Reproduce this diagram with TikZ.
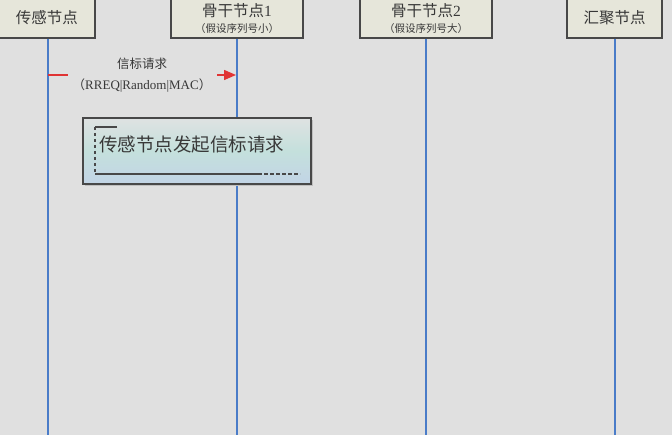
\documentclass[tikz,border=0pt]{standalone}
\usepackage{fontspec}
\setmainfont{Liberation Serif}
\newfontfamily\cjk{Noto Sans CJK SC}
\usetikzlibrary{arrows.meta}
\definecolor{bgcol}{HTML}{E0E0E0}
\definecolor{boxcol}{HTML}{E6E6DA}
\definecolor{linecol}{HTML}{4A7CC8}
\definecolor{msgcol}{HTML}{E03434}
\definecolor{edgecol}{HTML}{484848}
\definecolor{txtcol}{HTML}{383838}
\definecolor{notetop}{HTML}{DFE2E2}
\definecolor{notemid}{HTML}{C4E0DC}
\definecolor{notebot}{HTML}{C2D4E6}
\begin{document}
\begin{tikzpicture}[x=1pt,y=-1pt,
  actor/.style={draw=edgecol,fill=boxcol,line width=1.4pt,minimum height=40pt,inner sep=0pt,align=center,text=txtcol},
  life/.style={draw=linecol,line width=2.6pt},
  msg/.style={draw=msgcol,line width=1.4pt}]
\fill[bgcol] (0,0) rectangle (672,435);
\useasboundingbox (0,0) rectangle (672,435);

% lane heads
\node[actor,minimum width=96pt] (sens) at (47,18) {\cjk\fontsize{15.5}{17}\selectfont 传感节点};
\node[actor,minimum width=132pt] (bb1) at (237,18) {{\cjk\fontsize{15.5}{17}\selectfont 骨干节点}{\fontsize{15.5}{17}\selectfont 1}\\[4pt]{\cjk\fontsize{10.5}{11}\selectfont （假设序列号小）}};
\node[actor,minimum width=132pt] (bb2) at (426,18) {{\cjk\fontsize{15.5}{17}\selectfont 骨干节点}{\fontsize{15.5}{17}\selectfont 2}\\[4pt]{\cjk\fontsize{10.5}{11}\selectfont （假设序列号大）}};
\node[actor,minimum width=95pt] (sink) at (614.5,18) {\cjk\fontsize{15.5}{17}\selectfont 汇聚节点};

% lifelines
\coordinate (sensend) at (48,435);
\coordinate (bb1end) at (237,435);
\coordinate (bb2end) at (426,435);
\coordinate (sinkend) at (615,435);
\draw[life] (sens.south -| sensend) -- (sensend);
\draw[life] (bb1.south) -- (bb1end);
\draw[life] (bb2.south) -- (bb2end);
\draw[life] (sink.south -| sinkend) -- (sinkend);

% beacon request
\coordinate (m1) at (48,75);
\coordinate (m2) at (68,75);
\coordinate (m3) at (217,75);
\coordinate (m4) at (236,75);
\draw[msg] (m1) -- (m2);
\draw[msg,-{Triangle[length=12pt,width=10pt]}] (m3) -- (m4);
\node[text=txtcol] (lab1) at (142,64) {\cjk\fontsize{12.5}{14}\selectfont 信标请求};
\node[text=txtcol] (lab2) at (142,86) {{\cjk\fontsize{12.5}{14}\selectfont （}{\fontsize{13}{14}\selectfont RREQ|Random|MAC}{\cjk\fontsize{12.5}{14}\selectfont ）}};

% note
\fill[edgecol!35] (85,120) rectangle (313,186);
\shade[top color=notetop,bottom color=notebot,middle color=notemid,draw=edgecol,line width=1.4pt] (83,118) rectangle (311,184);
\draw[edgecol,line width=1.2pt] (117,127) -- (95,127);
\draw[edgecol,line width=1.2pt,dashed] (95,127) -- (95,174);
\draw[edgecol,line width=1.2pt] (95,174) -- (258,174);
\draw[edgecol,line width=1.2pt,dash pattern=on 4pt off 2pt] (258,174) -- (300,174);
\node[anchor=west,inner sep=0pt,text=txtcol] (note) at (99,145) {\cjk\fontsize{18.5}{20}\selectfont 传感节点发起信标请求};
\end{tikzpicture}
\end{document}
